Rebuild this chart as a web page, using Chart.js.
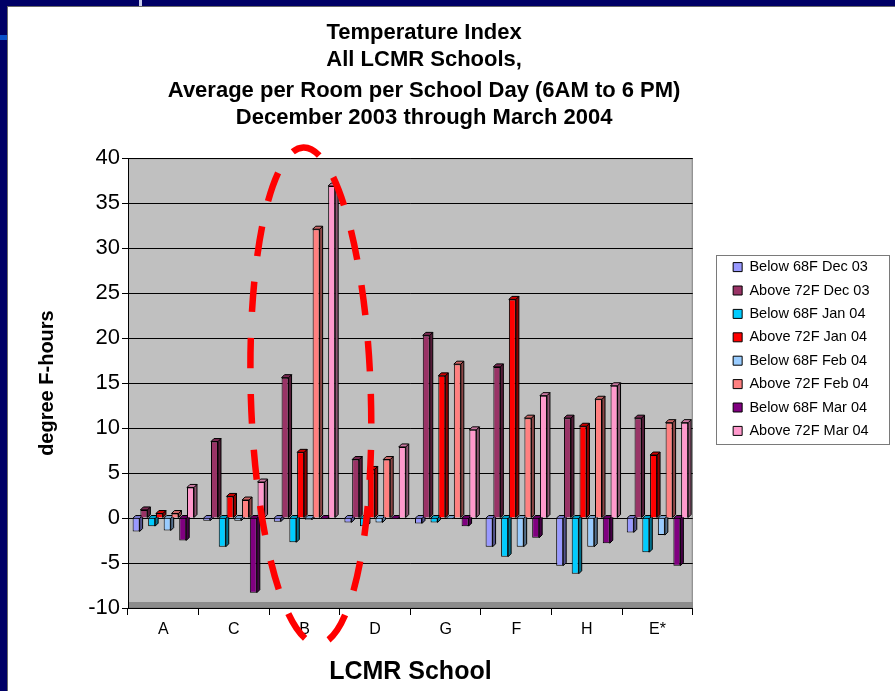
<!DOCTYPE html>
<html>
<head>
<meta charset="utf-8">
<title>Temperature Index</title>
<script src="https://cdn.jsdelivr.net/npm/chart.js@4.4.1/dist/chart.umd.min.js"></script>
<style>
  html, body { margin: 0; padding: 0; }
  body { width: 895px; height: 691px; background: #000066; position: relative; overflow: hidden; }
  #frame { position: absolute; left: 7px; top: 6px; width: 888px; height: 685px; background: #fff;
           border-top: 1px solid #6a6a6a; border-left: 1px solid #6a6a6a; box-sizing: border-box; }
  #tempChart { position: absolute; left: 8px; top: 7px; }
  .tab { position: absolute; }
</style>
</head>
<body>
<div id="frame"></div>
<div class="tab" style="left:0;top:35px;width:7px;height:5px;background:#0a50c8"></div>
<div class="tab" style="left:139px;top:0;width:3px;height:6px;background:#c8cdea"></div>
<canvas id="tempChart" width="887" height="684"></canvas>
<script>
const schools = ['A', 'C', 'B', 'D', 'G', 'F', 'H', 'E*'];

const seriesNames = [
  'Below 68F Dec 03', 'Above 72F Dec 03',
  'Below 68F Jan 04', 'Above 72F Jan 04',
  'Below 68F Feb 04', 'Above 72F Feb 04',
  'Below 68F Mar 04', 'Above 72F Mar 04'
];

// degree F-hours per school
const below68Dec03 = [-1.5, -0.3, -0.4, -0.5, -0.6, -3.2, -5.3, -1.6];
const above72Dec03 = [0.9, 8.5, 15.6, 6.5, 20.3, 16.8, 11.1, 11.1];
const below68Jan04 = [-0.9, -3.2, -2.7, -0.9, -0.5, -4.3, -6.2, -3.8];
const above72Jan04 = [0.5, 2.4, 7.3, 5.4, 15.8, 24.3, 10.2, 7.0];
const below68Feb04 = [-1.4, -0.3, -0.2, -0.5, -0.1, -3.2, -3.2, -1.9];
const above72Feb04 = [0.5, 2.0, 32.1, 6.5, 17.1, 11.1, 13.2, 10.6];
const below68Mar04 = [-2.5, -8.3, -0.1, -0.1, -0.9, -2.2, -2.8, -5.3];
const above72Mar04 = [3.4, 4.0, 36.9, 7.9, 9.8, 13.6, 14.7, 10.6];

const yTicks = [-10, -5, 0, 5, 10, 15, 20, 25, 30, 35, 40];

const seriesValues = [
  below68Dec03, above72Dec03, below68Jan04, above72Jan04,
  below68Feb04, above72Feb04, below68Mar04, above72Mar04
];
const seriesColors = ['#9999FF', '#993366', '#00CCFF', '#FF0000', '#99CCFF', '#FF8080', '#800080', '#FF99CC'];

Chart.defaults.font.family = "'Liberation Sans', Arial, sans-serif";
Chart.defaults.color = '#000';

function shade(hex, f) {
  const n = parseInt(hex.slice(1), 16);
  const r = Math.round(((n >> 16) & 255) * f);
  const g = Math.round(((n >> 8) & 255) * f);
  const b = Math.round((n & 255) * f);
  return 'rgb(' + r + ',' + g + ',' + b + ')';
}

// grey walls of the plot
const plotBackground = {
  id: 'plotBackground',
  beforeDraw(chart) {
    const {ctx, chartArea: a} = chart;
    ctx.save();
    ctx.fillStyle = '#c0c0c0';
    ctx.fillRect(a.left, a.top, a.right - a.left, a.bottom - a.top);
    ctx.fillStyle = '#8c8c8c';
    ctx.fillRect(a.left, a.bottom - 6, a.right - a.left, 6);
    ctx.strokeStyle = '#808080';
    ctx.lineWidth = 1;
    ctx.strokeRect(a.left + 0.5, a.top + 0.5, a.right - a.left - 1, a.bottom - a.top - 1);
    ctx.restore();
  }
};

// side and top faces so the bars look like the 3-D columns
const barDepth = {
  id: 'barDepth',
  beforeDatasetsDraw(chart) {
    const ctx = chart.ctx;
    const d = 3;
    ctx.save();
    ctx.lineWidth = 1;
    ctx.strokeStyle = '#000';
    chart.data.datasets.forEach((ds, i) => {
      const meta = chart.getDatasetMeta(i);
      meta.data.forEach(bar => {
        const {x, y, base, width} = bar.getProps(['x', 'y', 'base', 'width'], true);
        const l = x - width / 2, r = x + width / 2;
        const top = Math.min(y, base), bot = Math.max(y, base);
        ctx.fillStyle = shade(ds.backgroundColor, 0.55);
        ctx.beginPath();
        ctx.moveTo(r, top); ctx.lineTo(r + d, top - d); ctx.lineTo(r + d, bot - d); ctx.lineTo(r, bot);
        ctx.closePath(); ctx.fill(); ctx.stroke();
        ctx.fillStyle = shade(ds.backgroundColor, 0.8);
        ctx.beginPath();
        ctx.moveTo(l, top); ctx.lineTo(l + d, top - d); ctx.lineTo(r + d, top - d); ctx.lineTo(r, top);
        ctx.closePath(); ctx.fill(); ctx.stroke();
      });
    });
    ctx.restore();
  }
};

// title over the plot only, legend centred on the page height
const placeBlocks = {
  id: 'placeBlocks',
  afterLayout(chart) {
    const a = chart.chartArea;
    const lg = chart.legend;
    const w = lg.width;
    lg.left = a.right + 31.5;
    lg.right = lg.left + w;
    lg.top = 0;
    lg.bottom = chart.height;
    chart.boxes.forEach(b => {
      if (b !== lg && b.options && b.options.text !== undefined && b.position === 'top') {
        b.left = a.left;
        b.right = lg.left - 4;
      }
    });
  }
};

const legendFrame = {
  id: 'legendFrame',
  afterDraw(chart) {
    const hb = chart.legend.legendHitBoxes;
    if (!hb || !hb.length) return;
    const first = hb[0], last = hb[hb.length - 1];
    const x0 = Math.round(first.left - 17) + 0.5;
    const y0 = Math.round(first.top - 5) + 0.5;
    const x1 = chart.width - 5.5;
    const y1 = Math.round(last.top + last.height + 6) + 0.5;
    const ctx = chart.ctx;
    ctx.save();
    ctx.strokeStyle = '#7a7a7a';
    ctx.lineWidth = 1;
    ctx.strokeRect(x0, y0, x1 - x0, y1 - y0);
    ctx.restore();
  }
};

// red dashed ring drawn round school B
const ringNote = {
  id: 'ringNote',
  afterDraw(chart) {
    const {ctx, scales: {x, y}} = chart;
    const cat = x.getPixelForValue(1) - x.getPixelForValue(0);
    const unit = y.getPixelForValue(0) - y.getPixelForValue(1);
    const cx = x.getPixelForValue(2) + cat * 0.09;
    const cy = y.getPixelForValue(13.6);
    ctx.save();
    ctx.strokeStyle = '#ff0000';
    ctx.lineWidth = 6.5;
    ctx.setLineDash([30, 26]);
    ctx.beginPath();
    ctx.ellipse(cx, cy, cat * 0.85, unit * 27.6, -0.03, 0, Math.PI * 2);
    ctx.stroke();
    ctx.restore();
  }
};

const datasets = seriesNames.map((name, i) => ({
  label: name,
  data: seriesValues[i],
  backgroundColor: seriesColors[i],
  borderColor: '#000',
  borderWidth: 1
}));

new Chart(document.getElementById('tempChart'), {
  type: 'bar',
  data: { labels: schools, datasets: datasets },
  plugins: [plotBackground, barDepth, placeBlocks, legendFrame, ringNote],
  options: {
    responsive: false,
    animation: false,
    events: [],
    layout: { padding: { right: 47 } },
    datasets: { bar: { categoryPercentage: 0.88, barPercentage: 0.9 } },
    scales: {
      x: {
        grid: { offset: true, drawOnChartArea: false, color: '#000', tickLength: 7 },
        border: { color: '#000' },
        ticks: { font: { size: 16 }, padding: 5 },
        title: { display: true, text: 'LCMR School', font: { size: 25, weight: 'bold' }, padding: { top: 0, bottom: 4 } },
        afterFit(s) { s.height = 83; }
      },
      y: {
        min: yTicks[0],
        max: yTicks[yTicks.length - 1],
        afterBuildTicks(s) { s.ticks = yTicks.map(v => ({ value: v })); },
        grid: { color: '#000', tickLength: 6 },
        border: { color: '#000' },
        ticks: { font: { size: 22 }, padding: 2 },
        title: { display: true, text: 'degree F-hours', font: { size: 20, weight: 'bold' }, padding: { top: 27, bottom: 0 } },
        afterFit(s) { s.width = 120; }
      }
    },
    plugins: {
      title: {
        display: true,
        text: ['Temperature Index', 'All LCMR Schools,'],
        font: { size: 22, weight: 'bold', lineHeight: 1.23 },
        padding: { top: 12.5, bottom: 1.7 }
      },
      subtitle: {
        display: true,
        text: ['Average per Room per School Day (6AM to 6 PM)', 'December 2003 through March 2004'],
        color: '#000',
        font: { size: 22, weight: 'bold', lineHeight: 1.23 },
        padding: { top: 1.7, bottom: 27 }
      },
      legend: {
        position: 'right',
        labels: { boxWidth: 9, boxHeight: 9, font: { size: 14.5 }, padding: 8.9 }
      },
      tooltip: { enabled: false }
    }
  }
});
</script>
</body>
</html>
